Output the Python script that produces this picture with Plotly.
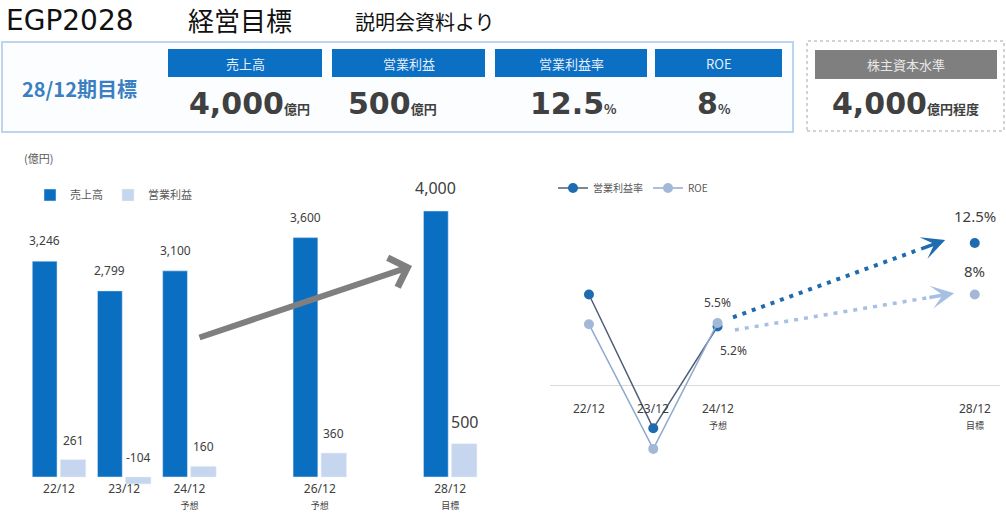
import plotly.graph_objects as go

# ---------------- data ----------------
periods = [22, 23, 24, 26, 28]
period_labels = ["22/12", "23/12", "24/12", "26/12", "28/12"]
period_notes = ["", "", "予想", "予想", "目標"]
sales = [3246, 2799, 3100, 3600, 4000]          # 売上高 (億円)
op_profit = [261, -104, 160, 360, 500]          # 営業利益 (億円)

rate_periods = [22, 23, 24, 28]
rate_labels = ["22/12", "23/12", "24/12", "28/12"]
rate_notes = ["", "", "予想", "目標"]
op_margin = [8.0, -3.7, 5.2, 12.5]               # 営業利益率 (%)
roe = [5.4, -5.5, 5.5, 8.0]                      # ROE (%)

kpi_labels = ["売上高", "営業利益", "営業利益率", "ROE"]
kpi_values = ["4,000", "500", "12.5", "8"]
kpi_units = ["億円", "億円", "%", "%"]
equity_label = "株主資本水準"
equity_value = "4,000"
equity_unit = "億円程度"

# ---------------- style ----------------
W, H = 1006, 514
DARK = "#0b6fc1"
LIGHT = "#c6d6ee"
TXT = "#404040"
CJK = "Noto Sans CJK JP"
LAT = "Noto Sans, Noto Sans CJK JP"


def px(x):
    return x / W


def py(y):
    return 1 - y / H


def paper_text(x, y, text, size, color, family, xanchor="center"):
    return dict(x=px(x), y=py(y), xref="paper", yref="paper", text=text,
                showarrow=False, xanchor=xanchor, yanchor="middle",
                font=dict(size=size, color=color, family=family))


fig = go.Figure()

# ---- left bar chart ----
fig.add_trace(go.Bar(x=periods, y=sales, name="売上高", marker_color=DARK,
                     offset=-0.41, width=0.38, legend="legend",
                     xaxis="x", yaxis="y"))
fig.add_trace(go.Bar(x=periods, y=op_profit, name="営業利益", marker_color=LIGHT,
                     offset=0.02, width=0.39, legend="legend",
                     xaxis="x", yaxis="y"))

annotations = []
for i, p in enumerate(periods):
    big = (i == len(periods) - 1)
    fs = 16 if big else 12
    annotations.append(dict(x=p - 0.41 + 0.19, y=sales[i], xref="x", yref="y",
                            text=f"{sales[i]:,}", showarrow=False, yanchor="bottom",
                            xanchor="center", yshift=10,
                            font=dict(size=fs, color=TXT, family=LAT)))
    annotations.append(dict(x=p + 0.02 + 0.195, y=max(op_profit[i], 0), xref="x", yref="y",
                            text=f"{op_profit[i]:,}", showarrow=False, yanchor="bottom",
                            xanchor="center", yshift=9,
                            font=dict(size=fs, color=TXT, family=LAT)))

left_ticktext = [lab + (f"<br><span style='font-size:9px'>{n}</span>" if n else "")
                 for lab, n in zip(period_labels, period_notes)]

# ---- right line chart ----
fig.add_trace(go.Scatter(x=rate_periods[:3], y=op_margin[:3], name="営業利益率",
                         mode="lines+markers", line=dict(color="#4f5f77", width=1.5),
                         marker=dict(color="#1f6bb0", size=10), legend="legend2",
                         xaxis="x2", yaxis="y2"))
fig.add_trace(go.Scatter(x=rate_periods[:3], y=roe[:3], name="ROE",
                         mode="lines+markers", line=dict(color="#8eaad0", width=1.5),
                         marker=dict(color="#a3b8d6", size=10), legend="legend2",
                         xaxis="x2", yaxis="y2"))
fig.add_trace(go.Scatter(x=rate_periods[3:], y=op_margin[3:], mode="markers",
                         marker=dict(color="#1f6bb0", size=10), showlegend=False,
                         xaxis="x2", yaxis="y2"))
fig.add_trace(go.Scatter(x=rate_periods[3:], y=roe[3:], mode="markers",
                         marker=dict(color="#a3b8d6", size=10), showlegend=False,
                         xaxis="x2", yaxis="y2"))

# tick labels sitting on the zero line
for p, lab, n in zip(rate_periods, rate_labels, rate_notes):
    t = lab + (f"<br><span style='font-size:9px'>{n}</span>" if n else "")
    annotations.append(dict(x=p, y=0, xref="x2", yref="y2", text=t, showarrow=False,
                            xanchor="center", yanchor="top", yshift=-12,
                            font=dict(size=12, color=TXT, family=LAT)))

# value labels
annotations.append(dict(x=rate_periods[2], y=roe[2], xref="x2", yref="y2",
                        text=f"{roe[2]}%", showarrow=False, yshift=21,
                        font=dict(size=12, color=TXT, family=LAT)))
annotations.append(dict(x=rate_periods[2], y=op_margin[2], xref="x2", yref="y2",
                        text=f"{op_margin[2]}%", showarrow=False, yshift=-24, xshift=16,
                        font=dict(size=12, color=TXT, family=LAT)))
annotations.append(dict(x=rate_periods[3], y=op_margin[3], xref="x2", yref="y2",
                        text=f"{op_margin[3]}%", showarrow=False, yshift=27,
                        font=dict(size=15, color=TXT, family=LAT)))
annotations.append(dict(x=rate_periods[3], y=roe[3], xref="x2", yref="y2",
                        text=f"{roe[3]:g}%", showarrow=False, yshift=23,
                        font=dict(size=15, color=TXT, family=LAT)))

shapes = []
# dotted trend arrows from 24/12 toward the 28/12 targets
for vals, col, lw, s_off, e_off in [
        (op_margin, "#1f6bb0", 4, (0.24, 0.8), (-0.46, 0.25)),
        (roe, "#a7bfe2", 3.5, (0.27, -0.6), (-0.32, 0.1))]:
    x0, y0 = rate_periods[2] + s_off[0], vals[2] + s_off[1]
    x1, y1 = rate_periods[3] + e_off[0], vals[3] + e_off[1]
    xm, ym = x1 - 0.12 * (x1 - x0), y1 - 0.12 * (y1 - y0)
    shapes.append(dict(type="line", xref="x2", yref="y2", x0=x0, y0=y0, x1=xm, y1=ym,
                       line=dict(color=col, width=lw, dash="4px,6px")))
    annotations.append(dict(x=x1, y=y1, ax=xm, ay=ym, xref="x2", yref="y2",
                            axref="x2", ayref="y2", text="", showarrow=True,
                            arrowhead=3, arrowsize=1.1, arrowwidth=3.5,
                            arrowcolor=col, standoff=0))

# big grey arrow on the bar chart
annotations.append(dict(x=px(412), y=py(266), xref="paper", yref="paper",
                        ax=-214, ay=72, text="", showarrow=True, arrowhead=4,
                        arrowsize=1, arrowwidth=6, arrowcolor="#7f7f7f", standoff=0))

# unit label
annotations.append(paper_text(22, 158, "(億円)", 11, "#595959", CJK, xanchor="left"))

# ---------------- header ----------------
annotations.append(paper_text(4, 21, "EGP2028", 28, "#111111", "DejaVu Sans", xanchor="left"))
annotations.append(paper_text(186, 20, "経営目標", 26, "#111111", CJK, xanchor="left"))
annotations.append(paper_text(353, 22, "説明会資料より", 20, "#111111", CJK, xanchor="left"))

shapes.append(dict(type="rect", xref="paper", yref="paper", x0=px(2), x1=px(793),
                   y0=py(132), y1=py(42), line=dict(color="#bcd4ec", width=2),
                   fillcolor="#fbfdff", layer="below"))
shapes.append(dict(type="rect", xref="paper", yref="paper", x0=px(807), x1=px(1004),
                   y0=py(131), y1=py(41), line=dict(color="#a6a6a6", width=1, dash="dot"),
                   fillcolor="white", layer="below"))

annotations.append(paper_text(79, 88, "<b>28/12期目標</b>", 20, "#3a7fc1", CJK))

box_x0 = [168, 332, 495, 655]
box_x1 = [322, 485, 647, 782]
val_cx = [249, 392, 573, 714]
for lab, v, u, a, b, cx in zip(kpi_labels, kpi_values, kpi_units, box_x0, box_x1, val_cx):
    shapes.append(dict(type="rect", xref="paper", yref="paper", x0=px(a), x1=px(b),
                       y0=py(77), y1=py(49), line=dict(width=0), fillcolor="#0b6fc4"))
    annotations.append(paper_text((a + b) / 2, 63, lab, 13, "#e4eefa", CJK))
    annotations.append(paper_text(
        cx, 104,
        f"<b>{v}<span style='font-size:13px;font-family:Noto Sans CJK JP'>{u}</span></b>",
        30, TXT, "DejaVu Sans"))

shapes.append(dict(type="rect", xref="paper", yref="paper", x0=px(815), x1=px(997),
                   y0=py(79), y1=py(50), line=dict(width=0), fillcolor="#7f7f7f"))
annotations.append(paper_text(906, 64, equity_label, 13, "#e6e6e6", CJK))
annotations.append(paper_text(
    905, 104,
    f"<b>{equity_value}<span style='font-size:13px;font-family:Noto Sans CJK JP'>{equity_unit}</span></b>",
    30, TXT, "DejaVu Sans"))

fig.update_layout(
    width=W, height=H, margin=dict(l=0, r=0, t=0, b=0, autoexpand=False),
    paper_bgcolor="white", plot_bgcolor="white",
    barmode="overlay",
    xaxis=dict(domain=[0, 0.5], range=[21.095, 28.81], tickvals=periods,
               ticktext=left_ticktext, showgrid=False, zeroline=False, showline=False,
               ticks="", automargin=False, ticklabelstandoff=-6,
               tickfont=dict(size=12, color=TXT, family=LAT)),
    yaxis=dict(domain=[0.0545, 0.6412], range=[-135, 4400], visible=False,
               automargin=False),
    xaxis2=dict(domain=[0.5471, 0.9945], range=[21.4, 28.4], visible=False,
                automargin=False),
    yaxis2=dict(domain=[0.0710, 0.5607], range=[-8, 14], showgrid=False,
                showticklabels=False, showline=False, zeroline=True,
                zerolinecolor="#d9d9d9", zerolinewidth=1, automargin=False),
    legend=dict(orientation="h", x=px(30), y=py(195), xanchor="left", yanchor="middle",
                font=dict(size=11, color="#595959", family=CJK),
                bgcolor="rgba(0,0,0,0)", itemwidth=30),
    legend2=dict(orientation="h", x=px(553), y=py(188), xanchor="left", yanchor="middle",
                 font=dict(size=10, color="#595959", family=CJK),
                 bgcolor="rgba(0,0,0,0)", itemwidth=30),
    shapes=shapes,
    annotations=annotations,
    showlegend=True,
)

fig.write_html("out.html")
